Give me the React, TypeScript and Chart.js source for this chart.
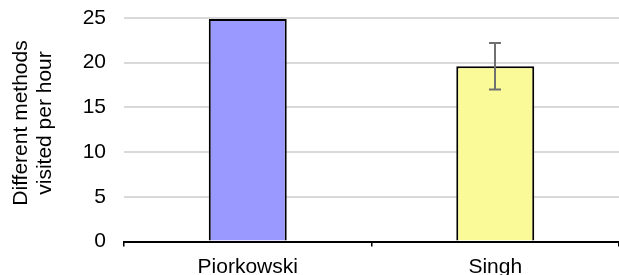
import { useEffect, useRef } from "react";
import { Chart, registerables } from "chart.js";

Chart.register(...registerables);

const categories = ["Piorkowski", "Singh"];
const values = [24.9, 19.6];
const errors = [0, 2.6];
const barColors = ["#9999FF", "#FAFA99"];
const yTicks = [0, 5, 10, 15, 20, 25];
const yTitle = ["Different methods", "visited per hour"];

const FONT = "'Liberation Sans', Arial, Helvetica, sans-serif";

const errorBarPlugin = {
  id: "errorBars",
  afterDatasetsDraw(chart: any) {
    const { ctx } = chart;
    const meta = chart.getDatasetMeta(0);
    const y = chart.scales.y;
    ctx.save();
    ctx.strokeStyle = "#707070";
    ctx.lineWidth = 2;
    meta.data.forEach((bar: any, i: number) => {
      const e = errors[i];
      if (!e) return;
      const x = Math.round(bar.x);
      const top = y.getPixelForValue(values[i] + e);
      const bot = y.getPixelForValue(values[i] - e);
      ctx.beginPath();
      ctx.moveTo(x, top);
      ctx.lineTo(x, bot);
      ctx.moveTo(x - 6, top);
      ctx.lineTo(x + 6, top);
      ctx.moveTo(x - 6, bot);
      ctx.lineTo(x + 6, bot);
      ctx.stroke();
    });
    ctx.restore();
  },
};

const yTitlePlugin = {
  id: "yTitleDraw",
  afterDraw(chart: any) {
    const { ctx } = chart;
    ctx.save();
    ctx.font = `21px ${FONT}`;
    ctx.fillStyle = "#000";
    ctx.textAlign = "center";
    ctx.textBaseline = "alphabetic";
    ctx.translate(0, 123);
    ctx.rotate(-Math.PI / 2);
    yTitle.forEach((line, i) => ctx.fillText(line, 0, 27 + i * 23.5));
    ctx.restore();
  },
};

export default function App() {
  const ref = useRef<HTMLCanvasElement | null>(null);

  useEffect(() => {
    if (!ref.current) return;
    const chart = new Chart(ref.current, {
      type: "bar",
      data: {
        labels: categories,
        datasets: [
          {
            data: values,
            backgroundColor: barColors,
            borderColor: "#000",
            borderWidth: 2,
            barPercentage: 0.315,
            categoryPercentage: 1,
          },
        ],
      },
      options: {
        responsive: false,
        animation: false,
        layout: { padding: { top: 18, left: 0, right: 0, bottom: 0 } },
        plugins: {
          legend: { display: false },
          tooltip: { enabled: false },
          title: { display: false },
        },
        scales: {
          x: {
            grid: {
              display: true,
              drawOnChartArea: false,
              drawTicks: true,
              tickLength: 5,
              color: "#000",
              lineWidth: 1.5,
            },
            border: { display: true, color: "#000", width: 2 },
            ticks: {
              color: "#000",
              padding: 8,
              font: { family: FONT, size: 21 },
            },
            afterFit(scale: any) {
              scale.height = 33.5;
            },
          },
          y: {
            min: 0,
            max: 25,
            grid: {
              display: true,
              drawTicks: false,
              color: "#d9d9d9",
              lineWidth: 2,
            },
            border: { display: false },
            ticks: {
              color: "#000",
              padding: 18,
              font: { family: FONT, size: 21 },
            },
            afterBuildTicks(scale: any) {
              scale.ticks = yTicks.map((v) => ({ value: v }));
            },
            afterFit(scale: any) {
              scale.width = 124;
              scale.paddingTop = 0;
              scale.paddingBottom = 0;
            },
          },
        },
      },
      plugins: [errorBarPlugin, yTitlePlugin],
    });
    return () => chart.destroy();
  }, []);

  return (
    <div style={{ position: "fixed", left: 0, top: 0, width: 619, height: 275, background: "#fff" }}>
      <canvas ref={ref} width={619} height={275} style={{ display: "block" }} />
    </div>
  );
}
